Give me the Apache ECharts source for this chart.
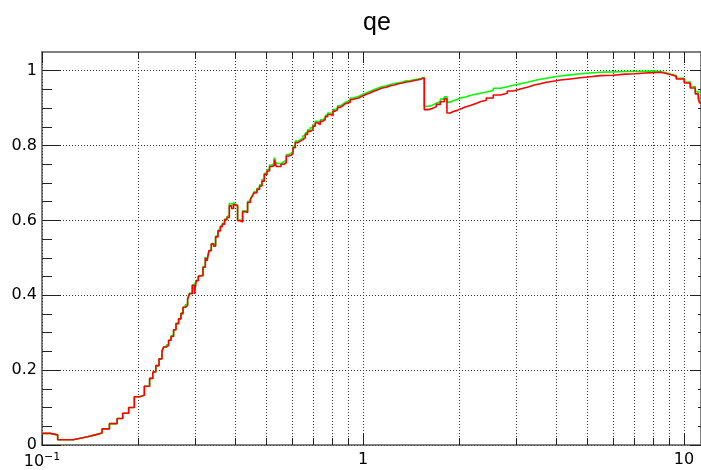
<!DOCTYPE html>
<html>
<head>
<meta charset="utf-8">
<script src="https://cdn.jsdelivr.net/npm/echarts@6/dist/echarts.min.js"></script>
<style>
  html, body { margin: 0; padding: 0; background: #fff; }
  #chart { width: 701px; height: 470px; }
</style>
</head>
<body>
<div id="chart"></div>
<script>
// Left edges of the histogram bins (energy axis, log scale)
const binEdges = [
  0.1000, 0.1061, 0.1119, 0.1185, 0.1250, 0.1316, 0.1387, 0.1466, 0.1538, 0.1622,
  0.1714, 0.1784, 0.1862, 0.1939, 0.2014, 0.2084, 0.2164, 0.2214, 0.2262, 0.2315,
  0.2365, 0.2392, 0.2439, 0.2480, 0.2523, 0.2570, 0.2615, 0.2664, 0.2710, 0.2750,
  0.2795, 0.2842, 0.2883, 0.2939, 0.2982, 0.3025, 0.3069, 0.3113, 0.3174, 0.3227,
  0.3266, 0.3313, 0.3368, 0.3424, 0.3474, 0.3534, 0.3593, 0.3645, 0.3706, 0.3770,
  0.3833, 0.3896, 0.3953, 0.4010, 0.4068, 0.4147, 0.4216, 0.4299, 0.4370, 0.4456,
  0.4520, 0.4585, 0.4675, 0.4763, 0.4846, 0.4926, 0.5023, 0.5117, 0.5206, 0.5293,
  0.5369, 0.5553, 0.5658, 0.5769, 0.5864, 0.5966, 0.6053, 0.6153, 0.6274, 0.6378,
  0.6503, 0.6611, 0.6721, 0.6852, 0.6986, 0.7102, 0.7221, 0.7362, 0.7506, 0.7631,
  0.7757, 0.7909, 0.8064, 0.8198, 0.8334, 0.8497, 0.8664, 0.8808, 0.8954, 0.9129,
  0.9308, 0.9463, 0.9689, 0.9929, 1.0166, 1.0537,
  1.0844, 1.1160, 1.1485, 1.1819, 1.2163, 1.2517, 1.2881, 1.3256, 1.3642, 1.4039,
  1.4448, 1.4868, 1.5192, 1.5522, 1.5974, 1.6439, 1.6917, 1.7410, 1.7917, 1.8267,
  1.8705, 1.9112, 1.9668, 2.0096, 2.0830, 2.1591, 2.2379, 2.3196, 2.4216, 2.5463,
  2.6775, 2.8154, 2.9392, 3.0906, 3.2497, 3.3927, 3.5674, 3.7243, 3.9161, 4.1177,
  4.4240, 4.7529, 5.1063, 5.4858, 6.0221, 6.5634, 7.0514, 7.5758, 8.0232, 8.4364,
  8.7445, 9.0638, 9.4625, 10.021, 10.462, 10.844, 11.080, 11.180
];
// Right edge of the last bin / end of the x range
const xMax = 11.3;

// Efficiency per bin, red histogram
const redQE = [
  0.031, 0.027, 0.014, 0.014, 0.018, 0.022, 0.027, 0.032, 0.043, 0.057,
  0.071, 0.085, 0.100, 0.129, 0.133, 0.157, 0.178, 0.195, 0.212, 0.230,
  0.249, 0.262, 0.266, 0.280, 0.290, 0.308, 0.324, 0.337, 0.351, 0.368,
  0.373, 0.390, 0.404, 0.426, 0.404, 0.439, 0.451, 0.452, 0.475, 0.500,
  0.492, 0.519, 0.537, 0.531, 0.556, 0.572, 0.583, 0.590, 0.602, 0.608,
  0.639, 0.632, 0.643, 0.639, 0.599, 0.596, 0.623, 0.621, 0.648, 0.655,
  0.665, 0.674, 0.683, 0.692, 0.705, 0.723, 0.732, 0.744, 0.747, 0.763,
  0.744, 0.750, 0.754, 0.772, 0.774, 0.779, 0.794, 0.808, 0.812, 0.816,
  0.821, 0.830, 0.838, 0.843, 0.852, 0.861, 0.856, 0.865, 0.870, 0.877,
  0.883, 0.880, 0.892, 0.896, 0.902, 0.907, 0.912, 0.914, 0.916, 0.923,
  0.925, 0.927, 0.932, 0.936, 0.941, 0.946,
  0.950, 0.954, 0.956, 0.960, 0.962, 0.965, 0.967, 0.970, 0.971, 0.974,
  0.976, 0.978, 0.981, 0.896, 0.899, 0.904, 0.910, 0.917, 0.925, 0.887,
  0.891, 0.894, 0.898, 0.903, 0.907, 0.912, 0.917, 0.921, 0.927, 0.935,
  0.940, 0.946, 0.951, 0.956, 0.961, 0.965, 0.969, 0.972, 0.975, 0.978,
  0.981, 0.984, 0.987, 0.988, 0.991, 0.992, 0.994, 0.995, 0.996, 0.993,
  0.990, 0.985, 0.978, 0.967, 0.954, 0.938, 0.926, 0.914
];

// Efficiency per bin, green histogram
const greenQE = [
  0.031, 0.027, 0.014, 0.014, 0.018, 0.022, 0.027, 0.032, 0.043, 0.057,
  0.071, 0.085, 0.100, 0.129, 0.133, 0.157, 0.178, 0.195, 0.212, 0.230,
  0.252, 0.262, 0.268, 0.280, 0.292, 0.308, 0.326, 0.337, 0.353, 0.368,
  0.375, 0.392, 0.406, 0.428, 0.426, 0.440, 0.452, 0.454, 0.477, 0.502,
  0.494, 0.520, 0.538, 0.534, 0.558, 0.574, 0.585, 0.592, 0.604, 0.611,
  0.645, 0.640, 0.648, 0.642, 0.601, 0.598, 0.626, 0.624, 0.651, 0.658,
  0.667, 0.677, 0.686, 0.695, 0.709, 0.726, 0.736, 0.748, 0.752, 0.768,
  0.752, 0.756, 0.760, 0.776, 0.779, 0.784, 0.798, 0.812, 0.816, 0.820,
  0.826, 0.834, 0.842, 0.848, 0.856, 0.865, 0.861, 0.869, 0.874, 0.881,
  0.887, 0.885, 0.896, 0.900, 0.906, 0.911, 0.916, 0.918, 0.920, 0.927,
  0.929, 0.931, 0.936, 0.940, 0.945, 0.950,
  0.954, 0.958, 0.960, 0.963, 0.966, 0.968, 0.970, 0.973, 0.974, 0.976,
  0.978, 0.980, 0.982, 0.905, 0.908, 0.913, 0.918, 0.924, 0.930, 0.916,
  0.920, 0.923, 0.927, 0.930, 0.934, 0.937, 0.940, 0.943, 0.947, 0.953,
  0.957, 0.961, 0.965, 0.969, 0.973, 0.977, 0.980, 0.983, 0.986, 0.989,
  0.992, 0.994, 0.996, 0.997, 0.998, 0.998, 0.999, 0.999, 0.998, 0.995,
  0.991, 0.987, 0.980, 0.970, 0.958, 0.944, 0.933, 0.922
];

// Axis tick positions
const decadeTicks = [0.1, 1, 10];
const minorTicksX = [0.2, 0.3, 0.4, 0.5, 0.6, 0.7, 0.8, 0.9, 2, 3, 4, 5, 6, 7, 8, 9];
const yMajorTicks = [0, 0.2, 0.4, 0.6, 0.8, 1];
const yMinorTicks = [0.05, 0.1, 0.15, 0.25, 0.3, 0.35, 0.45, 0.5, 0.55,
                     0.65, 0.7, 0.75, 0.85, 0.9, 0.95];
const yMax = 1.05;

const FONT = '"DejaVu Sans", "Liberation Sans", sans-serif';
const TITLE_FONT = '"Liberation Sans", Arial, sans-serif';
const FRAME = '#555';
const TICK = '#222';

const lg = v => Math.log10(v);
const xMinLog = -1;
const xMaxLog = lg(xMax);

// Histogram outline: one point per bin edge, the last bin closed at xMax
function stepData(values) {
  const pts = binEdges.map((e, i) => [lg(e), values[i]]);
  pts.push([xMaxLog, values[values.length - 1]]);
  return pts;
}

function xAxisDef(position, ticks, len, extra) {
  return Object.assign({
    type: 'value', position: position, min: xMinLog, max: xMaxLog,
    axisLine: { show: true, onZero: false, lineStyle: { color: FRAME, width: 1.5 } },
    axisTick: { show: true, inside: true, length: len, customValues: ticks,
                lineStyle: { color: TICK, width: 1 } },
    axisLabel: { show: false },
    splitLine: { show: false }
  }, extra || {});
}

function yAxisDef(position, ticks, len, extra) {
  return Object.assign({
    type: 'value', position: position, min: 0, max: yMax,
    axisLine: { show: true, onZero: false, lineStyle: { color: FRAME, width: 1.5 } },
    axisTick: { show: true, inside: true, length: len, customValues: ticks,
                lineStyle: { color: TICK, width: 1 } },
    axisLabel: { show: false },
    splitLine: { show: false }
  }, extra || {});
}

const allXTicks = decadeTicks.concat(minorTicksX).map(lg);
const gridDots = { show: true, lineStyle: { color: '#333', width: 1, type: [1, 2] } };

const chart = echarts.init(document.getElementById('chart'), null, { renderer: 'canvas' });
chart.setOption({
  animation: false,
  backgroundColor: '#fff',
  title: {
    text: 'qe', left: 372, top: 6, textAlign: 'center',
    textStyle: { fontFamily: TITLE_FONT, fontSize: 25, fontWeight: 'normal', color: '#000' }
  },
  grid: { left: 42, right: 0, top: 52, bottom: 23, containLabel: false },
  xAxis: [
    xAxisDef('bottom', allXTicks, 7, {
      splitLine: gridDots,
      axisLabel: {
        show: true, customValues: [-1, 0, 1], margin: 7,
        fontFamily: FONT, fontSize: 16, color: '#000',
        formatter: v => {
          const p = Math.round(v);
          return p === -1 ? '{m|10}{e|\u22121}' : String(Math.pow(10, p));
        },
        rich: {
          m: { fontFamily: FONT, fontSize: 16, color: '#000', lineHeight: 18, verticalAlign: 'bottom' },
          e: { fontFamily: FONT, fontSize: 11, color: '#000', lineHeight: 11, verticalAlign: 'top' }
        }
      }
    }),
    xAxisDef('bottom', decadeTicks.map(lg), 11, { axisLine: { show: false, onZero: false } }),
    xAxisDef('top', allXTicks, 7),
    xAxisDef('top', decadeTicks.map(lg), 11, { axisLine: { show: false, onZero: false } })
  ],
  yAxis: [
    yAxisDef('left', yMajorTicks, 19, {
      splitLine: gridDots,
      axisLabel: {
        show: true, customValues: yMajorTicks, margin: 5,
        fontFamily: FONT, fontSize: 16, color: '#000',
        formatter: v => (v === 0 ? '0' : v === 1 ? '1' : v.toFixed(1))
      }
    }),
    yAxisDef('left', yMinorTicks, 10, { axisLine: { show: false, onZero: false } }),
    yAxisDef('right', yMajorTicks, 11),
    yAxisDef('right', yMinorTicks, 3, { axisLine: { show: false, onZero: false } })
  ],
  series: [
    {
      name: 'green', type: 'line', step: 'end', xAxisIndex: 0, yAxisIndex: 0,
      data: stepData(greenQE), symbol: 'none', showSymbol: false, clip: true, z: 3,
      lineStyle: { color: '#00ff00', width: 1.6 }, itemStyle: { color: '#00ff00' }
    },
    {
      name: 'red', type: 'line', step: 'end', xAxisIndex: 0, yAxisIndex: 0,
      data: stepData(redQE), symbol: 'none', showSymbol: false, clip: true, z: 4,
      lineStyle: { color: '#ff0000', width: 1.6 }, itemStyle: { color: '#ff0000' }
    }
  ]
});
</script>
</body>
</html>
